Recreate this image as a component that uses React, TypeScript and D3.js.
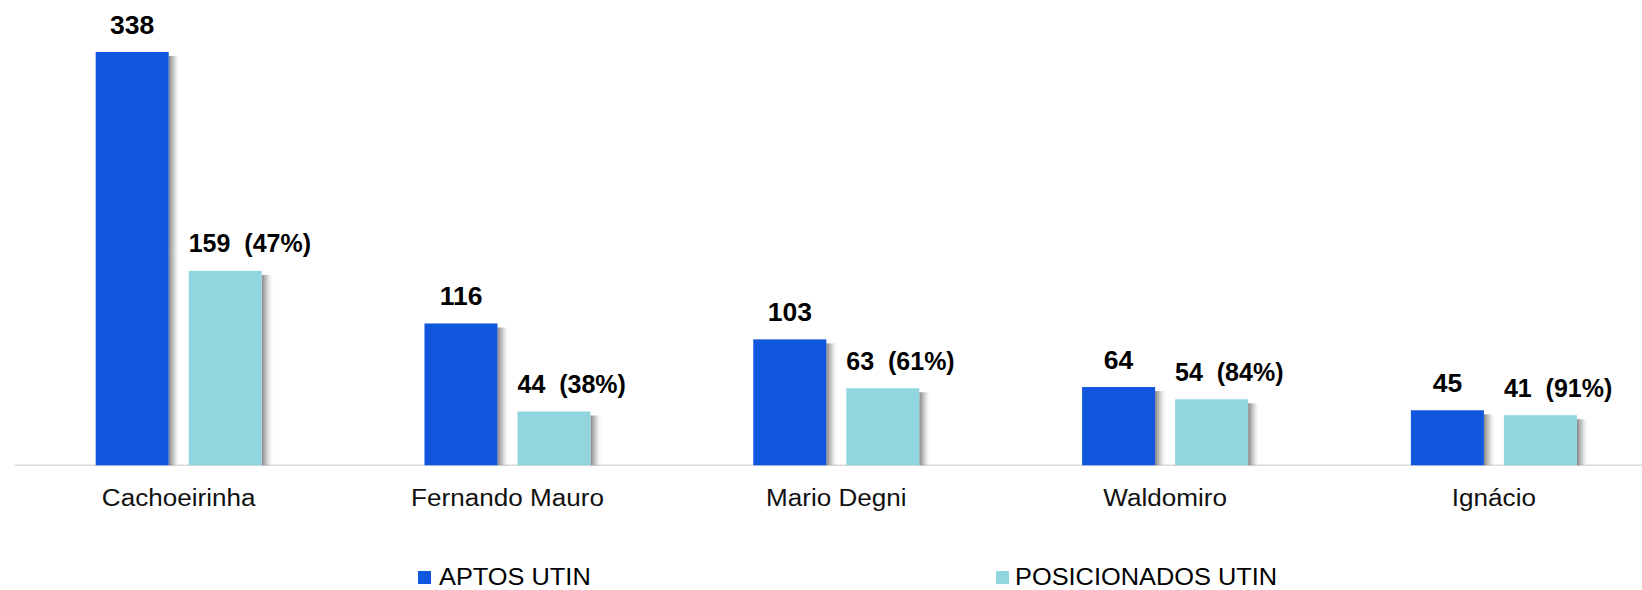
import React, { useEffect } from "react";
import * as d3 from "d3";

const categories = ["Cachoeirinha", "Fernando Mauro", "Mario Degni", "Waldomiro", "Ignácio"];
const series = ["APTOS UTIN", "POSICIONADOS UTIN"];
const aptos = [338, 116, 103, 64, 45];
const posicionados = [159, 44, 63, 54, 41];
const percentLabels = ["47%", "38%", "61%", "84%", "91%"];
const colors = ["#1057DE", "#91D6DE"];

const W = 1642;
const H = 590;
const FONT = "Arial, 'Liberation Sans', sans-serif";

export default function App() {
  useEffect(() => {
    document.body.style.margin = "0";
  }, []);

  const x0 = d3
    .scaleBand<string>()
    .domain(categories)
    .range([14.3, 1658.3])
    .paddingInner(0.495)
    .paddingOuter(0.2475);
  const x1 = d3
    .scaleBand<string>()
    .domain(series)
    .range([0, x0.bandwidth()])
    .paddingInner(0.215)
    .paddingOuter(0);
  const y = d3.scaleLinear().domain([0, 338]).range([465.3, 52]);
  const base = y(0);

  const groups = categories.map((c, i) => ({
    cat: c,
    vals: [aptos[i], posicionados[i]],
    pct: percentLabels[i],
  }));

  return (
    <svg width={W} height={H} style={{ display: "block", background: "#fff" }} fontFamily={FONT}>
      <defs>
        <linearGradient id="shadow" x1="0" x2="1" y1="0" y2="0">
          <stop offset="0" stopColor="#6e6e6e" stopOpacity={0.85} />
          <stop offset="0.45" stopColor="#a0a0a0" stopOpacity={0.5} />
          <stop offset="1" stopColor="#ffffff" stopOpacity={0} />
        </linearGradient>
      </defs>
      <line x1={15} x2={W} y1={base} y2={base} stroke="#d9d9d9" strokeWidth={1.5} />
      {groups.map((g) => {
        const gx = x0(g.cat)!;
        return (
          <g key={g.cat}>
            {g.vals.map((v, j) => {
              const bx = gx + x1(series[j])!;
              const bw = x1.bandwidth();
              const top = y(v);
              return (
                <g key={j}>
                  <rect x={bx + bw} y={top + 4} width={12} height={base - top - 4} fill="url(#shadow)" />
                  <rect x={bx} y={top} width={bw} height={base - top} fill={colors[j]} />
                  {j === 0 ? (
                    <text
                      transform={`translate(${bx + bw / 2},${top - 18.5}) scale(1.06,1)`}
                      textAnchor="middle"
                      fontSize={25}
                      fontWeight="bold"
                      fill="#000"
                    >
                      {v}
                    </text>
                  ) : (
                    <text
                      transform={`translate(${bx},${top - 18.5}) scale(1.0,1)`}
                      textAnchor="start"
                      fontSize={25}
                      fontWeight="bold"
                      fill="#000"
                      xmlSpace="preserve"
                    >
                      {`${v}  (${g.pct})`}
                    </text>
                  )}
                </g>
              );
            })}
            <text
              transform={`translate(${gx + x0.bandwidth() / 2},506) scale(1.12,1)`}
              textAnchor="middle"
              fontSize={23.3}
              fill="#111"
            >
              {g.cat}
            </text>
          </g>
        );
      })}
      {series.map((s, i) => {
        const lx = i === 0 ? 418 : 996;
        return (
          <g key={s}>
            <rect x={lx} y={571} width={13} height={13} fill={colors[i]} />
            <text
              transform={`translate(${lx + (i === 0 ? 21 : 19)},584.5) scale(1.08,1)`}
              fontSize={23.5}
              fill="#000"
            >
              {s}
            </text>
          </g>
        );
      })}
    </svg>
  );
}
